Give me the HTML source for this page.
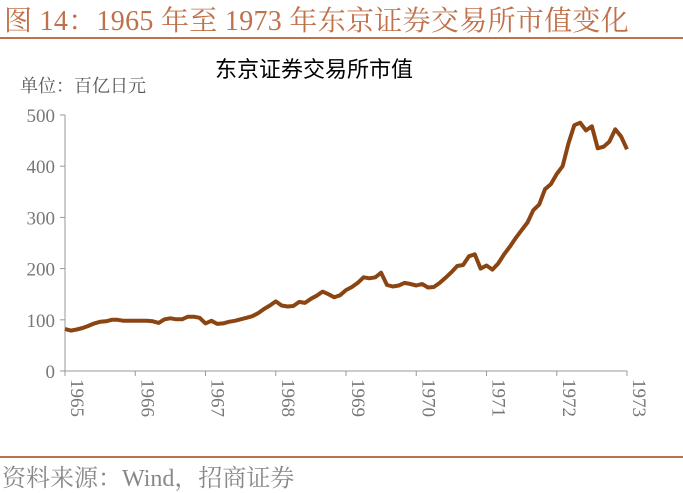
<!DOCTYPE html>
<html><head><meta charset="utf-8"><style>
body{margin:0;background:#fff;width:683px;height:488px;overflow:hidden;position:relative;font-family:"Liberation Serif","Noto Serif CJK SC",serif}
.abs{position:absolute;white-space:nowrap}
</style></head><body>
<div class="abs" style="left:4px;top:-1px;font-size:28px;color:#c0704a;letter-spacing:0.3px">图 14：1965 年至 1973 年东京证券交易所市值变化</div>
<div class="abs" style="left:0;top:37px;width:683px;height:2px;background:#c0704a"></div>
<div class="abs" style="left:215px;top:52px;font-size:22px;color:#000;font-family:'Noto Sans CJK SC',sans-serif">东京证券交易所市值</div>
<div class="abs" style="left:20px;top:72px;font-size:18px;color:#555">单位：百亿日元</div>
<svg id="chart" width="683" height="488" style="position:absolute;left:0;top:0"></svg>
<div class="abs" style="left:0;top:456px;width:683px;height:2px;background:#c0704a"></div>
<div class="abs" style="left:2px;top:458px;font-size:24px;color:#888">资料来源：Wind，招商证券</div>
<script>
const years=["1965","1966","1967","1968","1969","1970","1971","1972","1973"];
const yTicks=[0,100,200,300,400,500];
const values=[82,79,81,84,88,93,96,97,100,100,98,98,
98,98,98,97,94,101,103,101,101,106,106,104,
93,98,92,93,96,98,101,104,107,113,121,128,
136,128,126,127,135,133,141,147,155,150,144,148,
158,164,172,183,181,183,192,168,165,167,172,170,
167,170,163,164,172,182,193,205,207,224,228,200,
206,198,210,228,243,260,275,290,314,325,355,365,
385,400,445,480,485,470,478,435,438,448,472,458,
433];
const svg=document.getElementById('chart');const NS='http://www.w3.org/2000/svg';
const x0=65,x1=627,yb=371,yt=115;
const xs=i=>x0+(x1-x0)*i/(values.length-1);
const ys=v=>yb-(yb-yt)*v/500;
function el(t,a){const e=document.createElementNS(NS,t);for(const k in a)e.setAttribute(k,a[k]);svg.appendChild(e);return e;}
let ax=el('line',{x1:x0,y1:yt,x2:x0,y2:yb,stroke:'#999','stroke-width':1});

let bx=el('line',{x1:x0,y1:yb,x2:x1,y2:yb,stroke:'#999','stroke-width':1});

yTicks.forEach(v=>{const y=ys(v);
 let t=el('line',{x1:x0-5,y1:y,x2:x0,y2:y,stroke:'#999'});
 let tx=el('text',{x:x0-10,y:y+7,'text-anchor':'end','font-size':19,fill:'#777','font-family':'Liberation Serif,serif'});tx.textContent=v;
 });
years.forEach((yr,i)=>{const x=x0+(x1-x0)*i/(years.length-1);
 let t=el('line',{x1:x,y1:yb,x2:x,y2:yb+5,stroke:'#999'});
 let tx=el('text',{x:0,y:0,'text-anchor':'end','font-size':19,fill:'#777','font-family':'Liberation Serif,serif',transform:`translate(${x+6},${yb+8}) rotate(90)`});
 tx.setAttribute('text-anchor','start');tx.textContent=yr;
 });
let d=values.map((v,i)=>(i?'L':'M')+xs(i).toFixed(1)+','+ys(v).toFixed(1)).join('');
let p=el('path',{d:d,fill:'none',stroke:'#8b4513','stroke-width':4,'stroke-linejoin':'round'});

</script>
</body></html>
